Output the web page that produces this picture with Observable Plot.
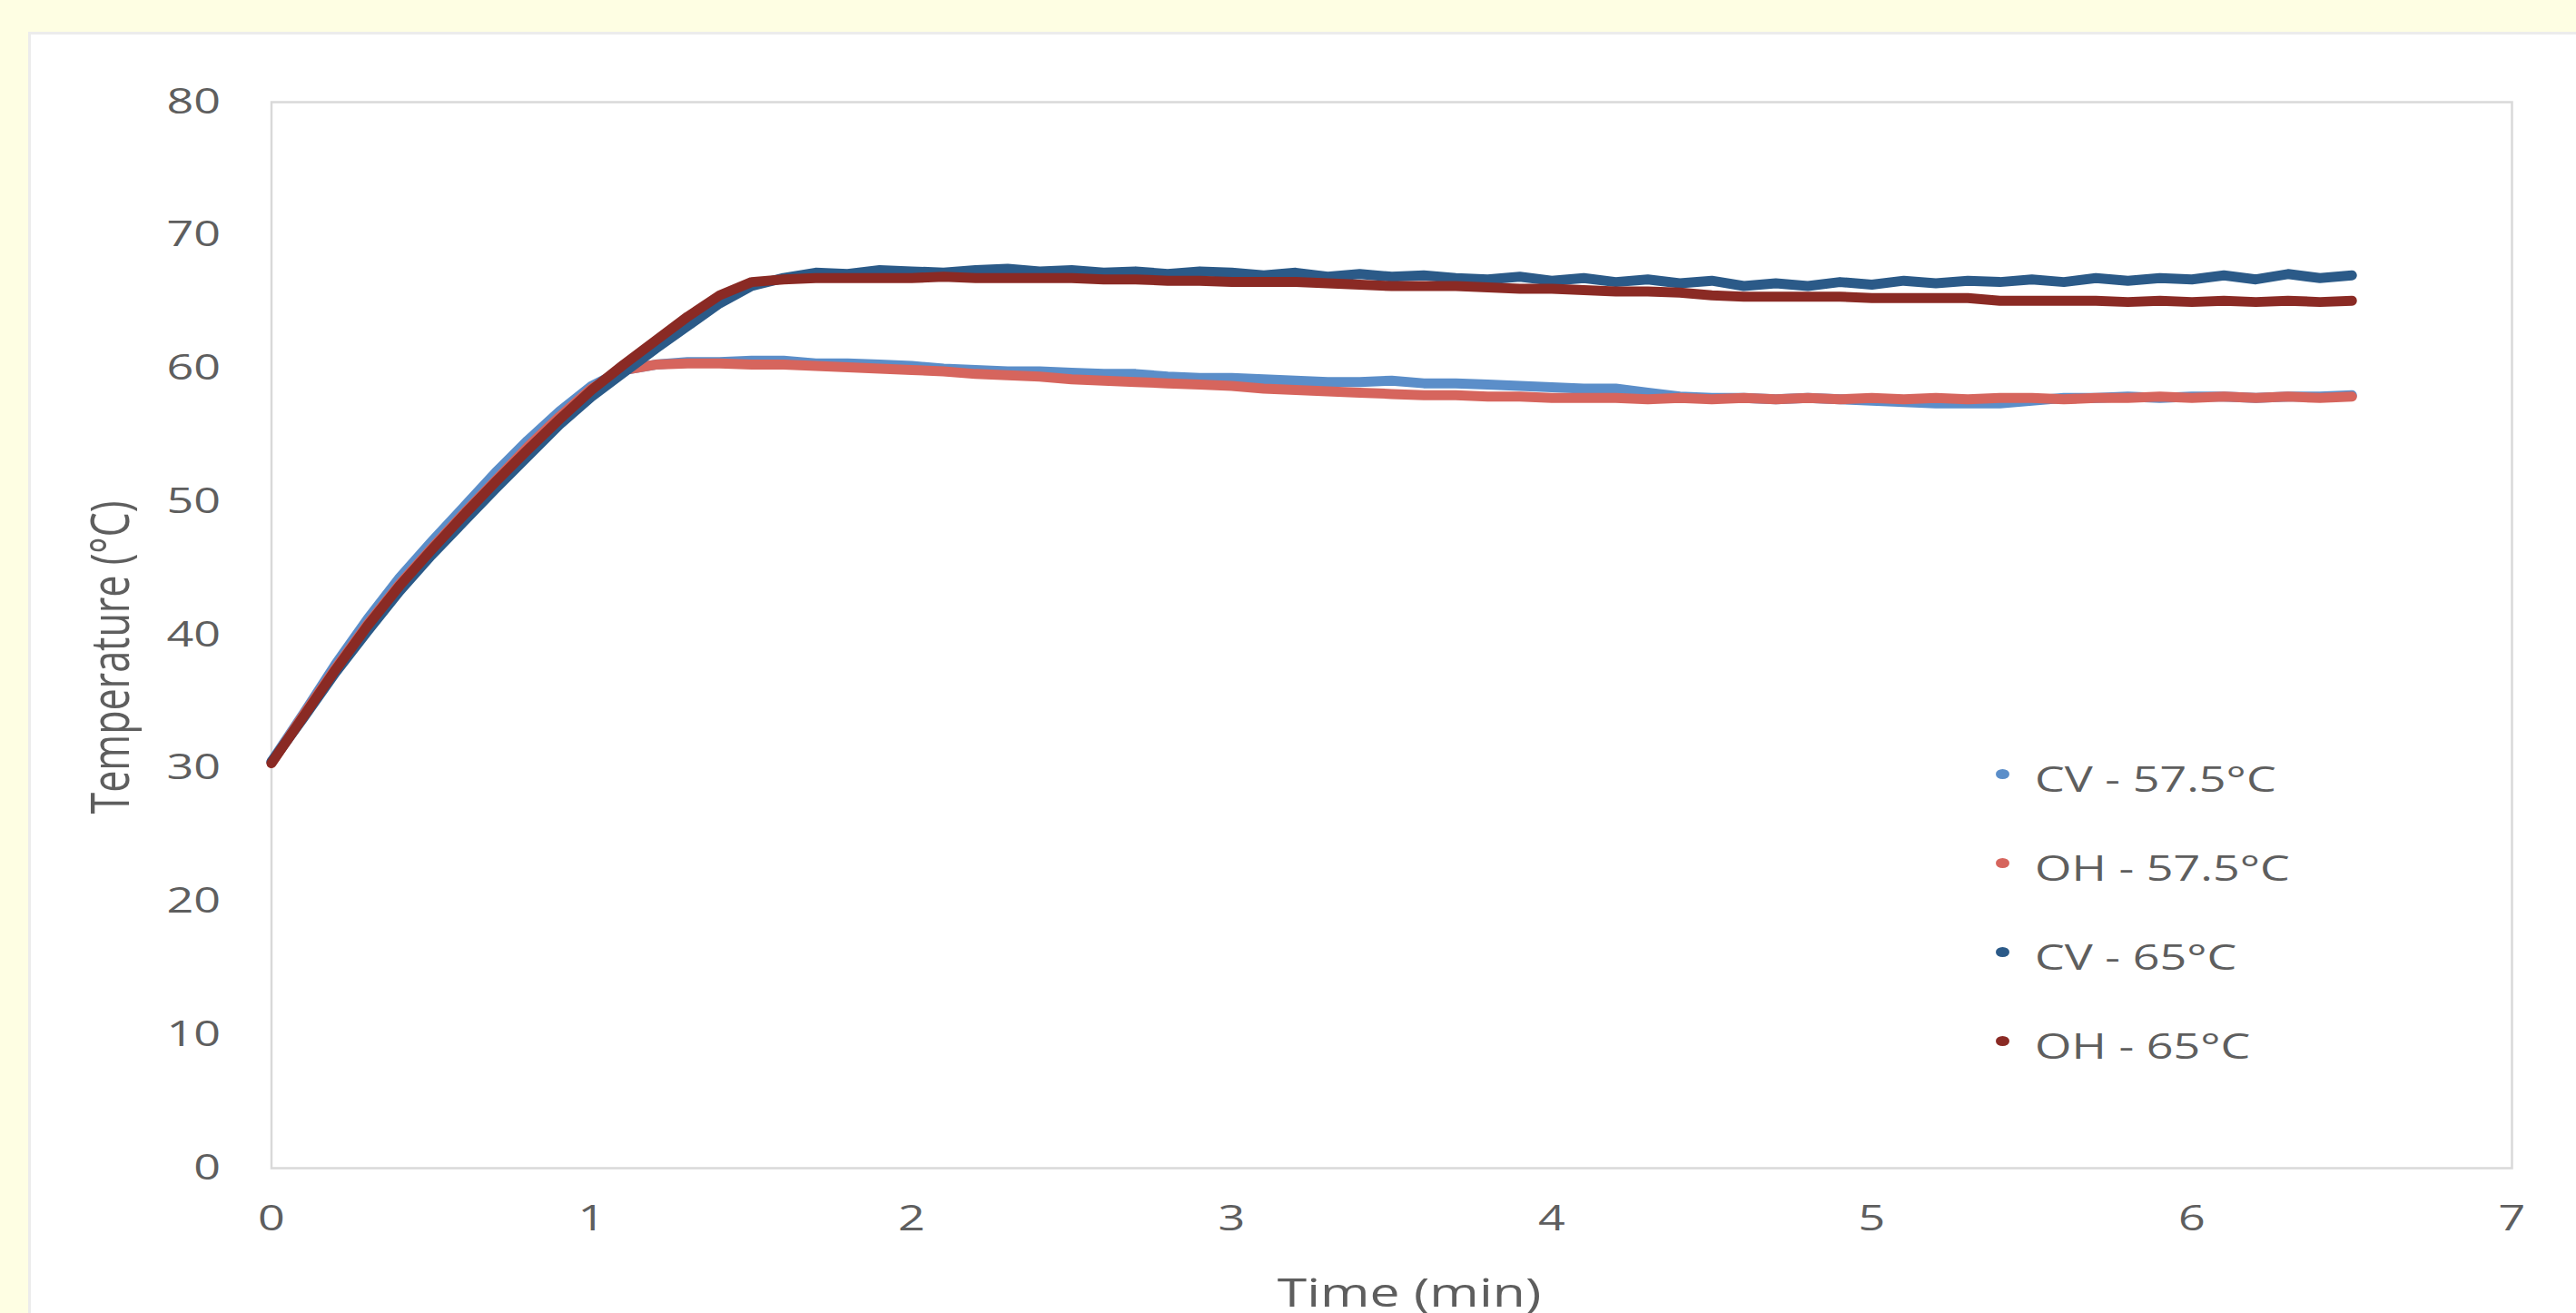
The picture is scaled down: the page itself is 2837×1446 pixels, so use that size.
<!DOCTYPE html>
<html>
<head>
<meta charset="utf-8">
<script src="https://cdn.jsdelivr.net/npm/d3@7"></script>
<script src="https://cdn.jsdelivr.net/npm/@observablehq/plot@0.6"></script>
<style>
  html, body { margin: 0; padding: 0; }
  body { width: 2837px; height: 1446px; background: #fefee3; position: relative; overflow: hidden; font-family: "Open Sans", sans-serif; color: #5e5e5e; }
  #card { position: absolute; left: 31px; top: 35px; width: 2860px; height: 1460px; background: #ffffff; border-left: 3px solid #ececec; border-top: 3px solid #ececec; box-sizing: border-box; }
  #chart { position: absolute; left: 0; top: 0; }
  .title { position: absolute; white-space: nowrap; line-height: 1; font-size: 43px; }
  #ytitle { left: 119px; top: 724px; transform: translate(-50%, -50%) rotate(-90deg) scaleY(1.37); }
  #xtitle { left: 1552px; top: 1422px; transform: translate(-50%, -50%) scaleX(1.37); }
  .lg-dot { position: absolute; width: 15px; height: 11px; border-radius: 50%; }
  .lg-text { position: absolute; white-space: nowrap; line-height: 1; font-size: 38px; transform-origin: left center; transform: translateY(-50%) scaleX(1.37); }
</style>
</head>
<body>
<div id="card"></div>
<div id="chart"></div>
<div id="ytitle" class="title">Temperature (°C)</div>
<div id="xtitle" class="title">Time (min)</div>
<div id="legend"></div>
<script>
// ---- data ----
const timeMin = [0.0,0.1,0.2,0.3,0.4,0.5,0.6,0.7,0.8,0.9,
                 1.0,1.1,1.2,1.3,1.4,1.5,1.6,1.7,1.8,1.9,
                 2.0,2.1,2.2,2.3,2.4,2.5,2.6,2.7,2.8,2.9,
                 3.0,3.1,3.2,3.3,3.4,3.5,3.6,3.7,3.8,3.9,
                 4.0,4.1,4.2,4.3,4.4,4.5,4.6,4.7,4.8,4.9,
                 5.0,5.1,5.2,5.3,5.4,5.5,5.6,5.7,5.8,5.9,
                 6.0,6.1,6.2,6.3,6.4,6.5];

const cv575 = [30.5,34.1,37.8,41.2,44.3,47.0,49.6,52.2,54.6,56.8,
               58.7,59.9,60.3,60.5,60.5,60.6,60.6,60.4,60.4,60.3,
               60.2,60.0,59.9,59.8,59.8,59.7,59.6,59.6,59.4,59.3,
               59.3,59.2,59.1,59.0,59.0,59.1,58.9,58.9,58.8,58.7,
               58.6,58.5,58.5,58.2,57.9,57.8,57.8,57.7,57.8,57.7,
               57.6,57.5,57.4,57.4,57.4,57.6,57.8,57.8,57.9,57.8,
               57.9,57.9,57.8,57.9,57.9,58.0];

const oh575 = [30.4,34.0,37.5,40.8,43.8,46.5,49.1,51.6,54.1,56.4,
               58.5,59.9,60.3,60.4,60.4,60.3,60.3,60.2,60.1,60.0,
               59.9,59.8,59.6,59.5,59.4,59.2,59.1,59.0,58.9,58.8,
               58.7,58.5,58.4,58.3,58.2,58.1,58.0,58.0,57.9,57.9,
               57.8,57.8,57.8,57.7,57.8,57.7,57.8,57.7,57.8,57.7,
               57.8,57.7,57.8,57.7,57.8,57.8,57.7,57.8,57.8,57.9,
               57.8,57.9,57.8,57.9,57.8,57.9];

const cv65 = [30.5,33.8,37.2,40.3,43.3,46.0,48.5,51.0,53.4,55.8,
              57.9,59.7,61.5,63.2,64.9,66.2,66.8,67.2,67.1,67.4,
              67.3,67.2,67.4,67.5,67.3,67.4,67.2,67.3,67.1,67.3,
              67.2,67.0,67.2,66.9,67.1,66.9,67.0,66.8,66.7,66.9,
              66.6,66.8,66.5,66.7,66.4,66.6,66.2,66.4,66.2,66.5,
              66.3,66.6,66.4,66.6,66.5,66.7,66.5,66.8,66.6,66.8,
              66.7,67.0,66.7,67.1,66.8,67.0];

const oh65 = [30.4,33.9,37.4,40.7,43.7,46.4,49.0,51.5,53.9,56.2,
              58.4,60.3,62.1,63.9,65.5,66.5,66.7,66.8,66.8,66.8,
              66.8,66.9,66.8,66.8,66.8,66.8,66.7,66.7,66.6,66.6,
              66.5,66.5,66.5,66.4,66.3,66.2,66.2,66.2,66.1,66.0,
              66.0,65.9,65.8,65.8,65.7,65.5,65.4,65.4,65.4,65.4,
              65.3,65.3,65.3,65.3,65.1,65.1,65.1,65.1,65.0,65.1,
              65.0,65.1,65.0,65.1,65.0,65.1];

const seriesNames  = ["CV - 57.5°C", "OH - 57.5°C", "CV - 65°C", "OH - 65°C"];
const seriesValues = [cv575, oh575, cv65, oh65];
const seriesColors = ["#5b8ec9", "#d6655d", "#2b5a88", "#8a2a24"];

const xTicks = [0, 1, 2, 3, 4, 5, 6, 7];
const yTicks = [0, 10, 20, 30, 40, 50, 60, 70, 80];
const xTitle = "Time (min)";
const yTitle = "Temperature (°C)";

// ---- long table for Plot ----
const rows = [];
seriesNames.forEach((name, k) => {
  timeMin.forEach((t, i) => rows.push({series: name, t, T: seriesValues[k][i]}));
});

const chart = Plot.plot({
  width: 2837,
  height: 1446,
  marginLeft: 298.5,
  marginRight: 71,
  marginTop: 112,
  marginBottom: 160,
  style: {background: "transparent", color: "#5e5e5e", fontFamily: "'Open Sans', sans-serif", fontSize: "38px", overflow: "visible"},
  x: {domain: [0, 7], label: null},
  y: {domain: [0, 80], label: null},
  color: {domain: seriesNames, range: seriesColors},
  marks: [
    Plot.frame({stroke: "#d9d9d9", strokeWidth: 2.5}),
    Plot.axisX(xTicks, {tickSize: 0, tickPadding: 42, fontSize: 38, label: null, tickFormat: d3.format("d")}),
    Plot.axisY(yTicks, {tickSize: 0, tickPadding: 56, fontSize: 38, label: null, tickFormat: d3.format("d")}),
    Plot.line(rows, {x: "t", y: "T", z: "series", stroke: "series", strokeWidth: 11,
                     strokeLinecap: "round", strokeLinejoin: "round"})
  ]
});

// the reference artwork is horizontally stretched: stretch glyphs about their anchor
const SX = 1.37;
chart.querySelectorAll("text").forEach(el => {
  const x = +el.getAttribute("x") || 0, y = +el.getAttribute("y") || 0;
  const tr = el.getAttribute("transform") || "";
  el.setAttribute("transform", `${tr} translate(${x},${y}) scale(${SX},1) translate(${-x},${-y})`);
});
document.getElementById("chart").appendChild(chart);

document.getElementById("xtitle").textContent = xTitle;
document.getElementById("ytitle").textContent = yTitle;

// ---- legend ----
const legend = document.getElementById("legend");
const legendX = 2205, legendTextX = 2241, legendTop = 857, legendGap = 98;
seriesNames.forEach((name, k) => {
  const cy = legendTop + k * legendGap;
  const dot = document.createElement("div");
  dot.className = "lg-dot";
  dot.style.left = (legendX - 7.5) + "px";
  dot.style.top = (cy - 10) + "px";
  dot.style.background = seriesColors[k];
  legend.appendChild(dot);
  const txt = document.createElement("div");
  txt.className = "lg-text";
  txt.style.left = legendTextX + "px";
  txt.style.top = cy + "px";
  txt.textContent = name;
  legend.appendChild(txt);
});
</script>
</body>
</html>
